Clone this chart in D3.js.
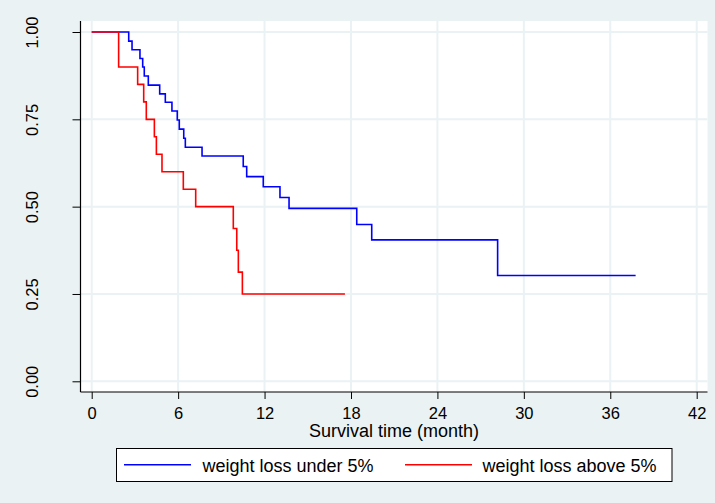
<!DOCTYPE html>
<html>
<head>
<meta charset="utf-8">
<script src="https://cdn.jsdelivr.net/npm/d3@7"></script>
<style>
  html, body { margin: 0; padding: 0; background: #eaf2f3; }
  svg { display: block; font-family: "Liberation Sans", Arial, sans-serif; }
</style>
</head>
<body>
<svg id="chart" width="715" height="503"></svg>
<script>
// Kaplan-Meier survival estimates by weight-loss group (time in months)
const groupNames = ["weight loss under 5%", "weight loss above 5%"];
const groupColors = ["#0000ff", "#ff0000"];

const underTimes = [0, 2.57, 2.80, 3.35, 3.54, 3.65, 3.93, 4.72, 5.11, 5.57, 5.94, 6.08, 6.39, 6.50, 7.66,
                    10.52, 10.76, 11.91, 13.07, 13.70, 18.40, 19.44, 28.18, 37.76];
const underSurv  = [1.00, 0.974, 0.949, 0.924, 0.900, 0.874, 0.848, 0.823, 0.799, 0.774, 0.748, 0.722, 0.696, 0.670, 0.645,
                    0.615, 0.586, 0.557, 0.526, 0.495, 0.449, 0.405, 0.303, 0.303];

const aboveTimes = [0, 1.87, 3.19, 3.61, 3.79, 4.35, 4.49, 4.88, 6.36, 7.22, 9.83, 10.07, 10.18, 10.46, 17.58];
const aboveSurv  = [1.00, 0.90, 0.85, 0.80, 0.75, 0.70, 0.65, 0.60, 0.55, 0.50, 0.4375, 0.375, 0.3125, 0.25, 0.25];

const xTicks = [0, 6, 12, 18, 24, 30, 36, 42];
const yTicks = [0, 0.25, 0.5, 0.75, 1];
const xTitle = "Survival time (month)";

const svg = d3.select("#chart");
const W = 715, H = 503;
const plot = { left: 80.5, right: 707.5, top: 21, bottom: 392 };
const tickFont = 16.5, labelFont = 18;

const x = d3.scaleLinear().domain([0, 42]).range([91.7, 696.7]);
const y = d3.scaleLinear().domain([0, 1]).range([381.3, 32]);

// outer region and plot region
svg.append("rect").attr("width", W).attr("height", H).attr("fill", "#eaf2f3");
svg.append("rect")
  .attr("x", plot.left).attr("y", plot.top)
  .attr("width", plot.right - plot.left).attr("height", plot.bottom - plot.top)
  .attr("fill", "#ffffff");

// grid lines
const grid = svg.append("g").attr("stroke", "#eaf2f3").attr("stroke-width", 2);
grid.selectAll("line.v").data(xTicks).join("line")
  .attr("class", "v")
  .attr("x1", d => x(d)).attr("x2", d => x(d))
  .attr("y1", plot.top).attr("y2", plot.bottom);
grid.selectAll("line.h").data(yTicks).join("line")
  .attr("class", "h")
  .attr("x1", plot.left).attr("x2", plot.right)
  .attr("y1", d => y(d)).attr("y2", d => y(d));

// survival curves
const line = d3.line()
  .x(d => x(d[0]))
  .y(d => y(d[1]))
  .curve(d3.curveStepAfter);

const series = [
  d3.zip(underTimes, underSurv),
  d3.zip(aboveTimes, aboveSurv)
];
svg.append("g").selectAll("path").data(series).join("path")
  .attr("d", line)
  .attr("fill", "none")
  .attr("stroke", (d, i) => groupColors[i])
  .attr("stroke-width", 1.6);

// x axis
const xAxis = svg.append("g")
  .attr("transform", `translate(0,${plot.bottom})`)
  .call(d3.axisBottom(x).tickValues(xTicks).tickSize(7).tickPadding(8).tickFormat(d3.format("d")));
xAxis.select(".domain").remove();
xAxis.selectAll(".tick line").attr("stroke", "#000").attr("stroke-width", 1);
xAxis.selectAll(".tick text").attr("font-size", tickFont).attr("fill", "#000")
  .attr("font-family", "Liberation Sans, Arial, sans-serif");

// y axis
const yAxis = svg.append("g")
  .attr("transform", `translate(${plot.left},0)`)
  .call(d3.axisLeft(y).tickValues(yTicks).tickSize(8).tickFormat(d3.format(".2f")));
yAxis.select(".domain").remove();
yAxis.selectAll(".tick line").attr("stroke", "#000").attr("stroke-width", 1);
yAxis.selectAll(".tick text")
  .attr("font-size", tickFont).attr("fill", "#000")
  .attr("font-family", "Liberation Sans, Arial, sans-serif")
  .attr("text-anchor", "middle")
  .attr("x", null)
  .attr("transform", "translate(-47.5,0) rotate(-90)")
  .attr("dy", "0.71em")
  .attr("y", -7);

// axis lines
svg.append("line")
  .attr("x1", plot.left).attr("x2", plot.left)
  .attr("y1", plot.top).attr("y2", plot.bottom)
  .attr("stroke", "#000").attr("stroke-width", 1.2);
svg.append("line")
  .attr("x1", plot.left).attr("x2", plot.right)
  .attr("y1", plot.bottom).attr("y2", plot.bottom)
  .attr("stroke", "#000").attr("stroke-width", 1.2);

// axis title
svg.append("text")
  .attr("x", (plot.left + plot.right) / 2)
  .attr("y", 436.5)
  .attr("text-anchor", "middle")
  .attr("font-size", labelFont)
  .text(xTitle);

// legend
const legend = svg.append("g");
legend.append("rect")
  .attr("x", 116.5).attr("y", 448.5)
  .attr("width", 555.5).attr("height", 33)
  .attr("fill", "#ffffff").attr("stroke", "#000").attr("stroke-width", 1);
const legendItems = [
  { x0: 124, x1: 191, tx: 202.5 },
  { x0: 405, x1: 472, tx: 482.5 }
];
legendItems.forEach((it, i) => {
  legend.append("line")
    .attr("x1", it.x0).attr("x2", it.x1)
    .attr("y1", 464.7).attr("y2", 464.7)
    .attr("stroke", groupColors[i]).attr("stroke-width", 1.6);
  legend.append("text")
    .attr("x", it.tx).attr("y", 472)
    .attr("font-size", labelFont)
    .text(groupNames[i]);
});
</script>
</body>
</html>
